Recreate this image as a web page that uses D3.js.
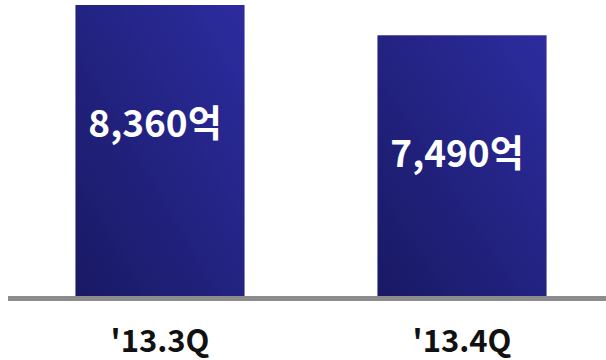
<!DOCTYPE html>
<html>
<head>
<meta charset="utf-8">
<script src="https://cdn.jsdelivr.net/npm/d3@7"></script>
<style>
  html, body { margin: 0; padding: 0; background: #ffffff; }
  svg { display: block; }
</style>
</head>
<body>
<svg id="chart" width="606" height="360"></svg>
<script>
// Quarterly figures (unit: 억)
const quarters = ["'13.3Q", "'13.4Q"];
const amounts = [8360, 7490];
const unitSuffix = "억";

const svg = d3.select("#chart");
const W = 606, H = 360;
const baseY = 296;

const x = d3.scaleBand()
  .domain(quarters)
  .range([9, 613])
  .paddingInner(0.44)
  .paddingOuter(0.22);

const y = d3.scaleLinear()
  .domain([0, d3.max(amounts)])
  .range([baseY, 5]);

// Diagonal navy gradient: dark at bottom-left, brighter toward top-right
const defs = svg.append("defs");
const grad = defs.append("linearGradient")
  .attr("id", "barFill")
  .attr("x1", "0").attr("y1", "1")
  .attr("x2", "1").attr("y2", "0");
grad.append("stop").attr("offset", "0%").attr("stop-color", "#191964");
grad.append("stop").attr("offset", "100%").attr("stop-color", "#2c2ca0");

const rows = quarters.map((q, i) => ({ q, v: amounts[i] }));

svg.append("g").selectAll("rect")
  .data(rows)
  .join("rect")
  .attr("x", d => x(d.q))
  .attr("y", d => y(d.v))
  .attr("width", x.bandwidth())
  .attr("height", d => baseY - y(d.v))
  .attr("fill", "url(#barFill)");

// Baseline
svg.append("rect")
  .attr("x", 8).attr("y", baseY)
  .attr("width", W - 8).attr("height", 5)
  .attr("fill", "#8c8c8c");

// Value labels inside bars
svg.append("g").selectAll("text")
  .data(rows)
  .join("text")
  .attr("x", d => x(d.q) + x.bandwidth() / 2 - 5)
  .attr("y", d => y(d.v) + 132)
  .attr("text-anchor", "middle")
  .attr("fill", "#ffffff")
  .attr("font-family", "'Noto Sans CJK KR', 'Noto Sans', sans-serif")
  .attr("font-weight", "bold")
  .attr("font-size", 37)
  .text(d => d3.format(",")(d.v) + unitSuffix);

// Category axis labels
const xAxis = d3.axisBottom(x).tickSize(0).tickPadding(0);
const ax = svg.append("g")
  .attr("transform", `translate(0, 352)`)
  .call(xAxis);
ax.select(".domain").remove();
ax.selectAll("text")
  .attr("dy", 0)
  .attr("fill", "#111111")
  .attr("font-family", "'Noto Sans CJK KR', 'Noto Sans', sans-serif")
  .attr("font-weight", "bold")
  .attr("font-size", 31);
</script>
</body>
</html>
